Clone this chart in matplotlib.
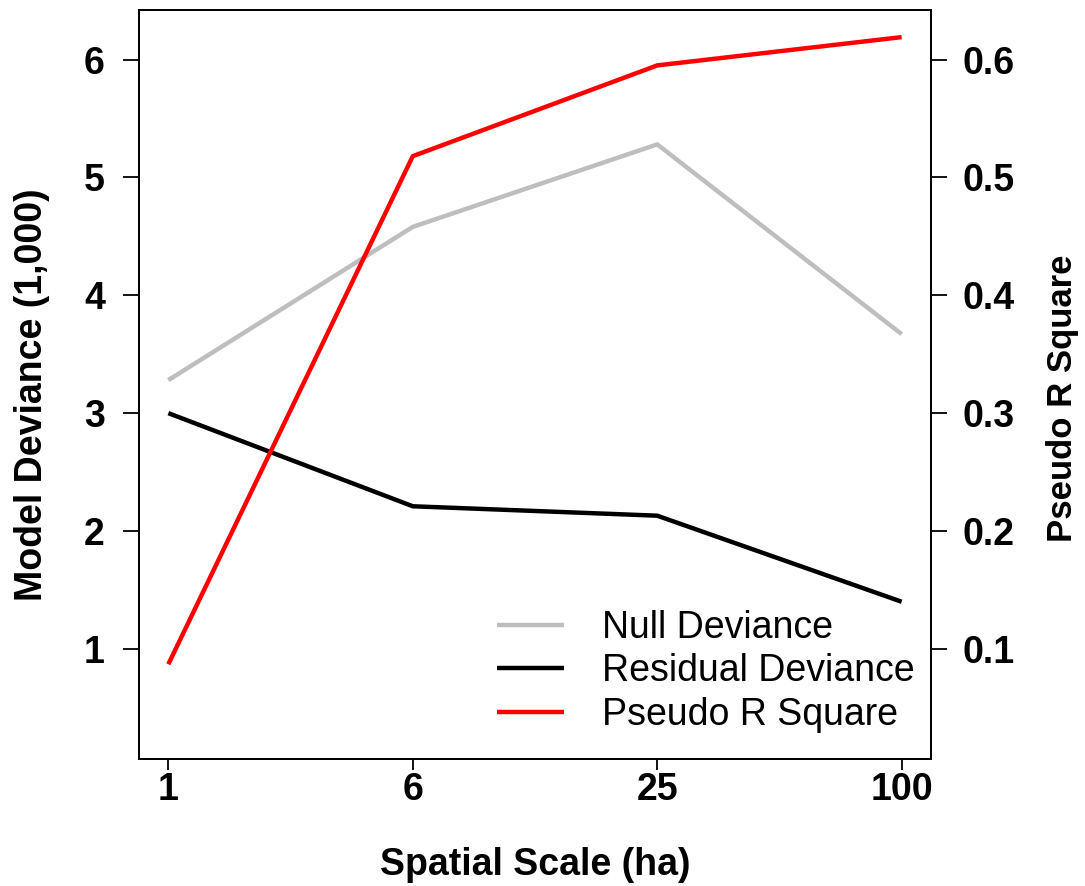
import numpy as np
import matplotlib.pyplot as plt

plt.rcParams["font.family"] = ["Liberation Sans", "DejaVu Sans"]

# ============================================================
# DATA
# ============================================================
scales       = ["1", "6", "25", "100"]
null_dev     = [3.28, 4.58, 5.28, 3.67]      # model deviance (1,000)
resid_dev    = [3.00, 2.21, 2.13, 1.40]
pseudo_r2    = [0.087, 0.518, 0.595, 0.619]

x = np.arange(1, len(scales) + 1)

# ============================================================
# PLOT
# ============================================================
W, H = 1085, 886
fig = plt.figure(figsize=(W / 100, H / 100), dpi=100)
ax = fig.add_axes([139 / W, (H - 759) / H, (931 - 139) / W, (759 - 10) / H])

l_null, = ax.plot(x, null_dev, color="#bebebe", lw=3.2, solid_capstyle="butt")
l_res, = ax.plot(x, resid_dev, color="black", lw=3.2, solid_capstyle="butt")

ylim = (0.066, 6.42)
ax.set_xlim(0.88, 4.12)
ax.set_ylim(*ylim)
ax.set_xticks(x)
ax.set_xticklabels(scales)
ax.set_yticks([1, 2, 3, 4, 5, 6])

ax2 = ax.twinx()
l_r2, = ax2.plot(x, pseudo_r2, color="red", lw=3.2, solid_capstyle="butt")
ax2.set_ylim(ylim[0] / 10, ylim[1] / 10)
ax2.set_yticks([0.1, 0.2, 0.3, 0.4, 0.5, 0.6])
ax2.set_yticklabels(["0.1", "0.2", "0.3", "0.4", "0.5", "0.6"])

for a in (ax, ax2):
    for s in a.spines.values():
        s.set_linewidth(1.3)
    a.tick_params(direction="out", width=1.3, labelsize=27)
    for lab in a.get_xticklabels() + a.get_yticklabels():
        lab.set_fontweight("bold")
ax.tick_params(axis="x", length=8, pad=1)
ax.tick_params(axis="y", length=11.5, pad=13)
ax2.tick_params(axis="y", length=11.5, pad=11)

ax.set_xlabel("Spatial Scale (ha)", fontsize=27, fontweight="bold")
ax.xaxis.set_label_coords(0.5, -0.117)
ax.set_ylabel("Model Deviance (1,000)", fontsize=27, fontweight="bold")
ax.yaxis.set_label_coords(-0.113, 0.487)
ax2.set_ylabel("Pseudo R Square", fontsize=25, fontweight="bold")
ax2.yaxis.set_label_coords(1.145, 0.482)

ax2.legend([l_null, l_res, l_r2],
           ["Null Deviance", "Residual Deviance", "Pseudo R Square"],
           loc="lower right", bbox_to_anchor=(0.998, 0.015), borderaxespad=0,
           frameon=False, fontsize=27, handlelength=1.8,
           handletextpad=1.0, labelspacing=0.2)

fig.savefig("out.png", dpi=100)
